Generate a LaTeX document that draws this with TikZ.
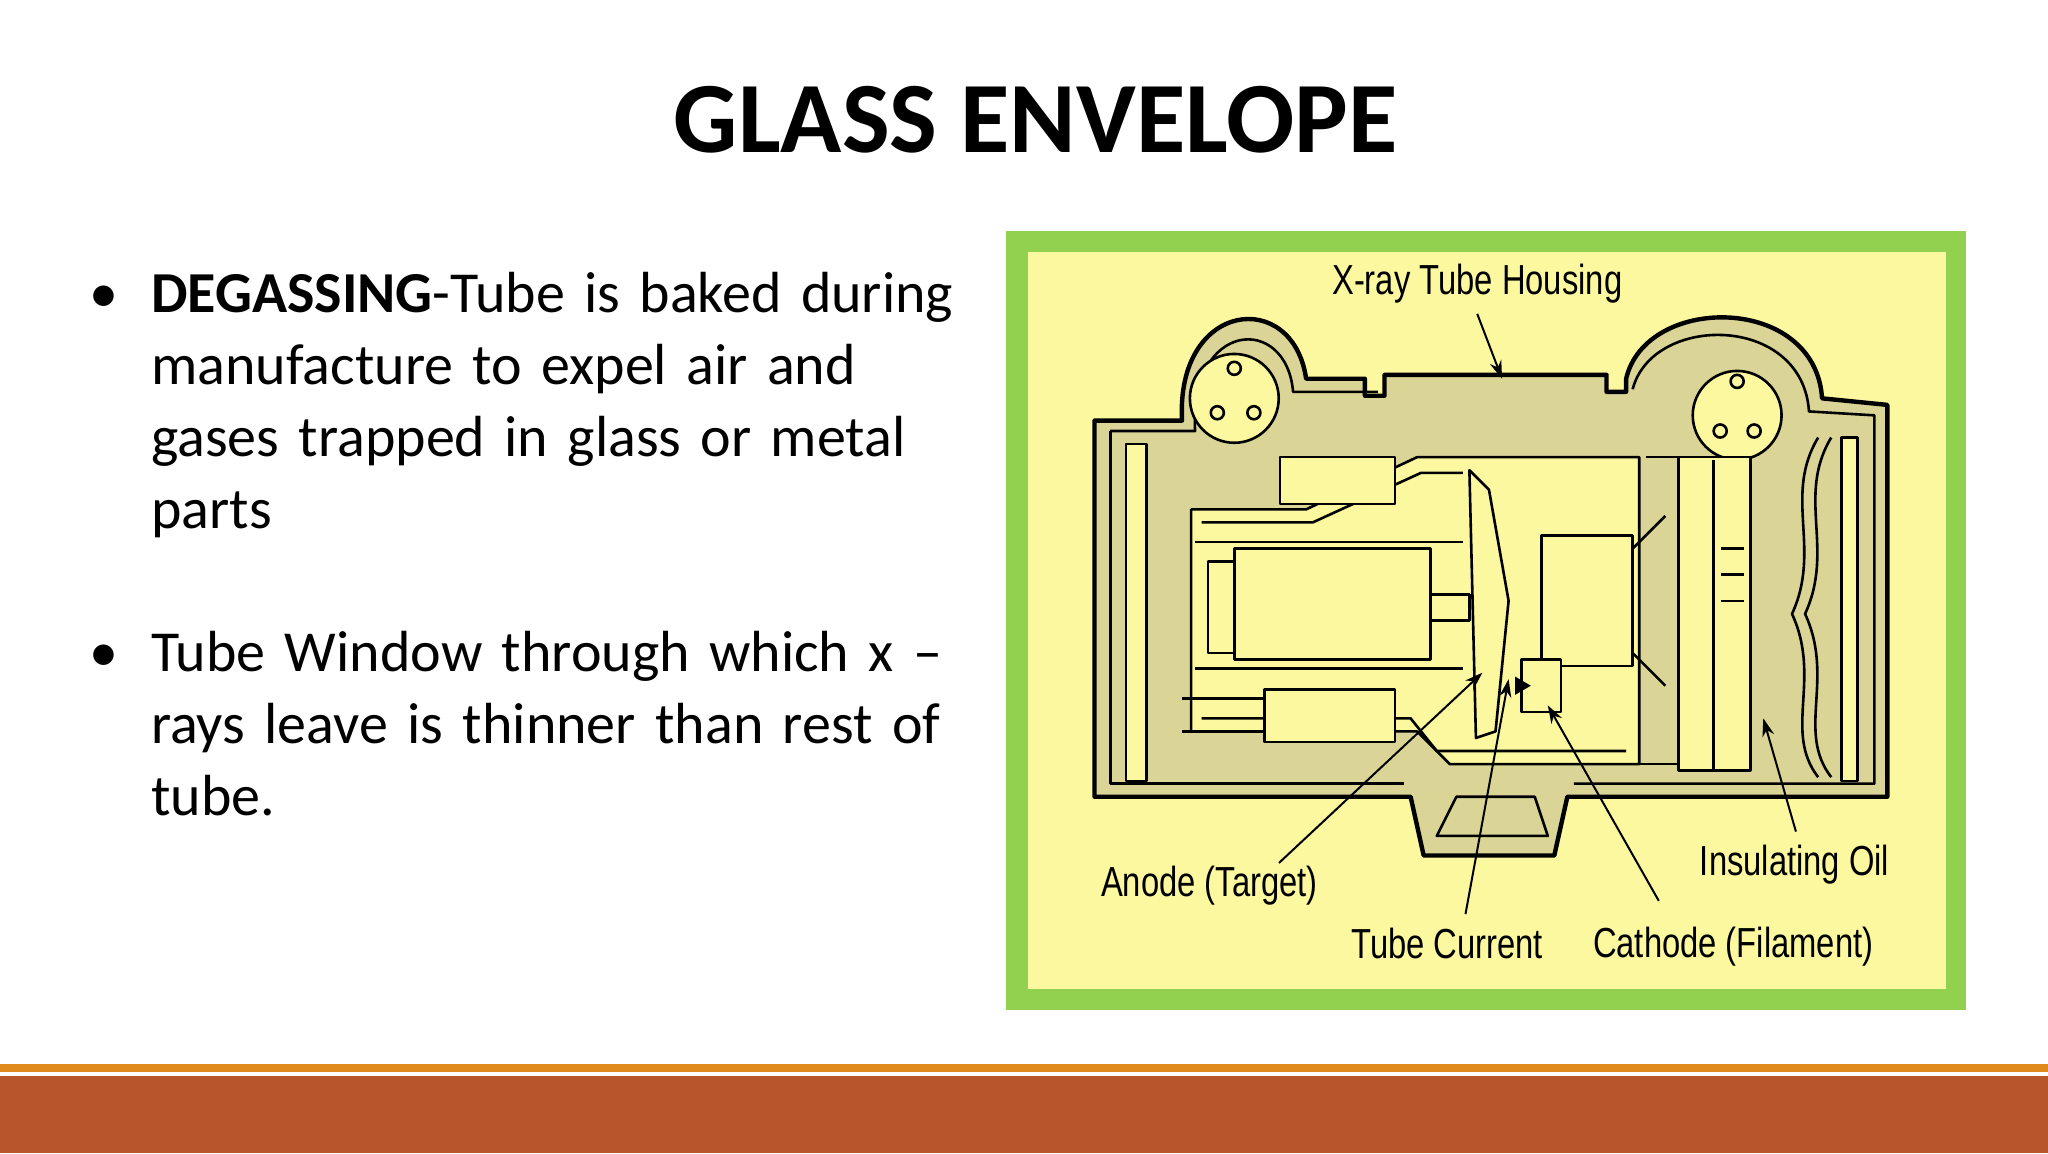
\documentclass[tikz,border=0pt]{standalone}
\usepackage{fontspec}
\usetikzlibrary{arrows.meta}
\setmainfont{Carlito}
\newfontfamily\lab{Liberation Sans}
\definecolor{frameg}{RGB}{146,208,80}
\definecolor{paper}{RGB}{252,248,160}
\definecolor{oil}{RGB}{218,212,150}
\definecolor{rust}{RGB}{185,85,45}
\definecolor{orng}{RGB}{224,138,30}
\begin{document}
\begin{tikzpicture}[x=0.653pt,y=-0.653pt,
  hous/.style={line width=2.2pt,line join=round},
  part/.style={line width=1.3pt,line join=round},
  lbl/.style={font=\lab\fontsize{21}{24}\selectfont,xscale=0.78,inner sep=0pt},
  arr/.style={line width=1pt,-{Stealth[length=9pt,width=6pt]}},
  btxt/.style={anchor=north west,align=left,text width=470pt,font=\fontsize{29}{36}\selectfont,inner sep=0pt}]
\useasboundingbox (0,0) rectangle (1568,883);
\fill[white] (0,0) rectangle (1568,883);
% title
\node (title) at (793,92) {\fontsize{50.5}{56}\selectfont\bfseries GLASS ENVELOPE};
% bullets
\node[btxt] (b1) at (68,208)
 {\makebox[31pt][l]{\textbullet}\textbf{DEGASSING}-Tube is baked during\\
  \hspace*{31pt}manufacture to expel air and\\
  \hspace*{31pt}gases trapped in glass or metal\\
  \hspace*{31pt}parts};
\node[btxt] (b2) at (68,483)
 {\makebox[31pt][l]{\textbullet}Tube Window through which x --\\
  \hspace*{31pt}rays leave is thinner than rest of\\
  \hspace*{31pt}tube.};
% bottom bars
\fill[orng] (0,815) rectangle (1568,821);
\fill[rust] (0,824) rectangle (1568,883);
% picture frame
\fill[frameg] (770,177) rectangle (1505,773);
\fill[paper] (787,193) rectangle (1490,757);
% housing with oil
\path[hous,draw,fill=oil]
 (838,322) -- (905,322) .. controls (900,230) and (990,220) .. (1000,290) -- (1045,290)--(1045,303)--(1060,303)--(1060,287)--(1230,287)--(1230,300)--(1245,300)--(1245,290) .. controls (1260,225) and (1390,225) .. (1395,305) -- (1445,310)--(1445,610)--(1200,610)--(1190,655)--(1090,655)--(1080,610)--(838,610)--cycle;
\draw[part] (850,330) -- (915,330) .. controls (910,245) and (985,240) .. (990,300) -- (1055,300);
\draw[part] (1250,298) .. controls (1265,240) and (1380,240) .. (1385,315) -- (1435,318) -- (1435,600) -- (1205,600);
\draw[part] (850,330) -- (850,600) -- (1075,600);
\draw[part] (1100,640) -- (1115,610) -- (1175,610) -- (1185,640) -- cycle;
% glass envelope
\path[part,draw,fill=paper]
 (912,390)--(1000,390)--(1085,350)--(1255,350)--(1255,585)--(1110,585)--(1085,560)--(912,560)--cycle;
\draw[part] (920,400)--(1005,400)--(1088,362)--(1120,362);
\draw[part] (920,550)--(1080,550)--(1100,575)--(1245,575);
% left bulb
\draw[part,fill=paper] (945,305) circle (34);
\foreach \p in {(945,282),(932,316),(960,316)} \draw[part] \p circle (5);
\draw[part,fill=paper] (862,340) rectangle (878,598);
% small cylinders
\draw[part,fill=paper] (980,350) rectangle (1068,386);
\draw[part,fill=paper] (968,528) rectangle (1068,568);
\draw[part] (905,535) -- (968,535) (905,560) -- (968,560);
% rotor & anode
\draw[part] (915,415) -- (1120,415) (915,512) -- (1120,512);
\draw[part,fill=paper] (925,430) rectangle (945,500);
\draw[part,fill=paper] (945,420) rectangle (1095,505);
\draw[part,fill=paper] (1095,455) rectangle (1125,475);
\draw[part,fill=paper] (1125,360) -- (1140,375) -- (1155,460) -- (1145,560) -- (1130,565) -- cycle;
% cathode
\draw[part,fill=paper] (1180,410) rectangle (1250,510);
\draw[part,fill=paper] (1165,505) rectangle (1195,545);
\fill (1160,518) -- (1172,525) -- (1160,532) -- cycle;
\draw[part] (1250,420) -- (1275,395) (1250,500) -- (1275,525);
\draw[part] (1260,350) -- (1285,350) (1255,585) -- (1285,585);
% right bulb & cable
\draw[part,fill=paper] (1330,318) circle (34);
\foreach \p in {(1330,292),(1317,330),(1343,330)} \draw[part] \p circle (5);
\draw[part,fill=paper] (1285,350) rectangle (1340,590);
\draw[part] (1312,352) -- (1312,590);
\draw[part] (1318,420)--(1335,420) (1318,440)--(1335,440) (1318,460)--(1335,460);
% bellows
\draw[part] (1392,335) .. controls (1365,380) and (1395,420) .. (1372,470) .. controls (1395,520) and (1365,560) .. (1392,595);
\draw[part] (1402,335) .. controls (1375,380) and (1405,420) .. (1382,470) .. controls (1405,520) and (1375,560) .. (1402,595);
\draw[part,fill=paper] (1410,335) rectangle (1422,598);
% labels
\node[lbl] (hl) at (1131,217) {X-ray Tube Housing};
\node[lbl] (al) at (926,678) {Anode (Target)};
\node[lbl] (tl) at (1108,722) {Tube Current};
\node[lbl] (cl) at (1327,725) {Cathode (Filament)};
\node[lbl] (ol) at (1374,662) {Insulating Oil};
\coordinate (hp) at (1150,290);
\coordinate (ap) at (1135,515);
\coordinate (tp) at (1155,520);
\coordinate (cp) at (1185,540);
\coordinate (op) at (1350,550);
\draw[arr] (hl.south) ++(0,8) -- (hp);
\draw[arr] (al.north east) ++(-30,-2) -- (ap);
\draw[arr] (tl.north) ++(14,-10) -- (tp);
\draw[arr] (cl.north) ++(-57,-20) -- (cp);
\draw[arr] (ol.north) ++(1,-10) -- (op);
\end{tikzpicture}
\end{document}
